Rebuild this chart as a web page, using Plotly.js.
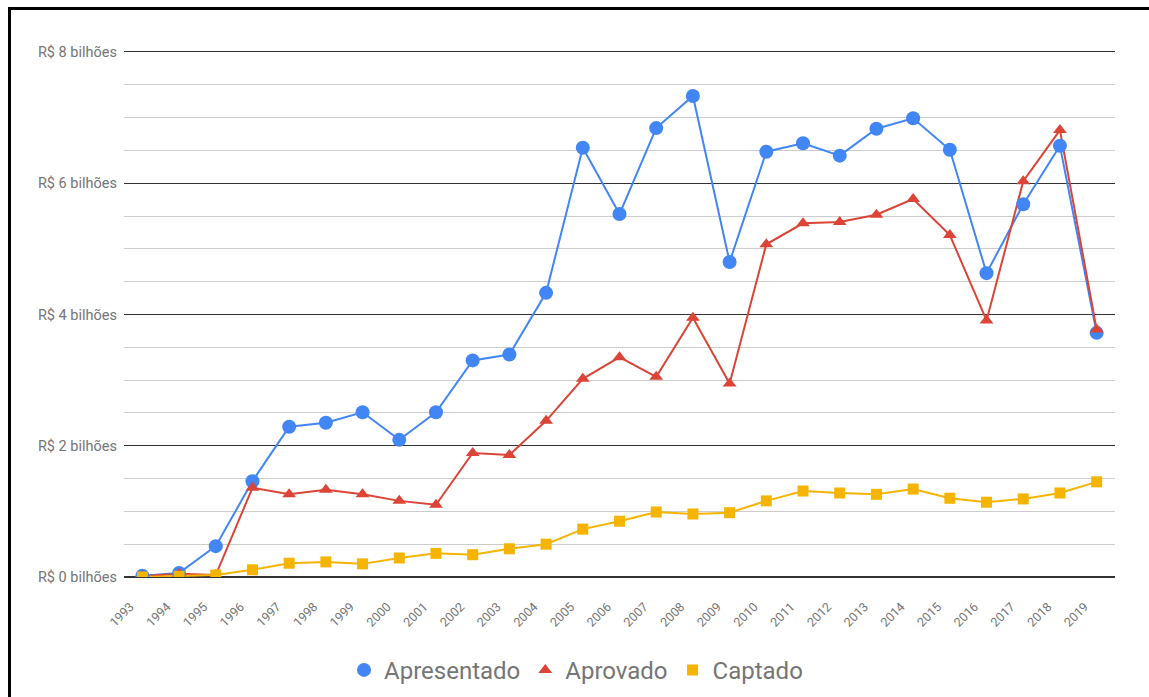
<!DOCTYPE html>
<html>
<head>
<meta charset="utf-8">
<script src="https://cdn.plot.ly/plotly-3.0.1.min.js"></script>
<style>
  html, body { margin: 0; padding: 0; background: #fff; overflow: hidden; }
  #chart { width: 1149px; height: 697px; position: absolute; left: 0; top: 0; }
  #frame { position: absolute; left: 8px; top: 7px; width: 1300px; height: 900px;
           border: 3px solid #000; box-sizing: border-box; pointer-events: none; }
</style>
</head>
<body>
<div id="chart"></div>
<div id="frame"></div>
<script>
const years = [1993,1994,1995,1996,1997,1998,1999,2000,2001,2002,2003,2004,2005,2006,2007,2008,2009,2010,2011,2012,2013,2014,2015,2016,2017,2018,2019];
const yearLabels = years.map(String);

// values in R$ billions
const apresentado = [0.02,0.06,0.47,1.46,2.29,2.35,2.51,2.09,2.51,3.30,3.39,4.33,6.54,5.53,6.84,7.33,4.80,6.48,6.61,6.42,6.83,6.99,6.51,4.63,5.68,6.57,3.72];
const aprovado    = [0.01,0.05,0.03,1.36,1.26,1.33,1.26,1.16,1.10,1.89,1.86,2.38,3.02,3.35,3.05,3.95,2.95,5.07,5.39,5.41,5.52,5.76,5.21,3.91,6.03,6.81,3.77];
const captado     = [0.00,0.01,0.03,0.11,0.21,0.23,0.20,0.29,0.36,0.34,0.43,0.50,0.73,0.85,0.99,0.96,0.98,1.16,1.31,1.28,1.26,1.34,1.20,1.14,1.19,1.28,1.45];

const yTickVals = [0,2,4,6,8];
const yTickText = ['R$ 0 bilhões','R$ 2 bilhões','R$ 4 bilhões','R$ 6 bilhões','R$ 8 bilhões'];

const seriesNames = ['Apresentado','Aprovado','Captado'];
const seriesData = [apresentado, aprovado, captado];
const colors = ['#4285F4','#DB4437','#F4B400'];
const symbols = ['circle','triangle-up','square'];
const sizes = [14, 12, 11];

const traces = [];
// lines first (under all markers)
seriesData.forEach((d, i) => {
  traces.push({
    x: years, y: d, type: 'scatter', mode: 'lines',
    line: {color: colors[i], width: 2},
    showlegend: false, hoverinfo: 'skip'
  });
});
// markers on top
seriesData.forEach((d, i) => {
  traces.push({
    x: years, y: d, type: 'scatter', mode: 'markers', name: seriesNames[i],
    marker: {color: colors[i], symbol: symbols[i], size: sizes[i]}
  });
});

const layout = {
  width: 1149, height: 697,
  margin: {l: 124, r: 34, t: 50, b: 120, autoexpand: false},
  paper_bgcolor: '#fff', plot_bgcolor: '#fff',
  font: {family: 'Roboto, sans-serif', color: '#757575'},
  showlegend: true,
  legend: {
    orientation: 'h', x: 0.222, xanchor: 'left', y: -0.177, yanchor: 'middle',
    font: {size: 24, color: '#757575', family: 'Roboto, sans-serif'},
    traceorder: 'normal'
  },
  xaxis: {
    range: [1992.5, 2019.5], automargin: false,
    tickmode: 'array', tickvals: years, ticktext: yearLabels,
    tickangle: -45, tickfont: {size: 12.5, color: '#757575'},
    ticklabelstandoff: 19, ticklabelshift: -12,
    showgrid: false, zeroline: false, showline: false, ticks: ''
  },
  yaxis: {
    range: [0, 8.03], automargin: false,
    tickmode: 'array', tickvals: yTickVals, ticktext: yTickText,
    tickfont: {size: 14.5, color: '#757575'},
    ticklabelstandoff: 6,
    showgrid: true, gridcolor: '#333', gridwidth: 1,
    zeroline: true, zerolinecolor: '#333', zerolinewidth: 1.5,
    showline: false, ticks: '',
    minor: {dtick: 0.5, tick0: 0, showgrid: true, gridcolor: '#cccccc', gridwidth: 1, ticks: ''}
  }
};

Plotly.newPlot('chart', traces, layout, {displayModeBar: false, staticPlot: true});
</script>
</body>
</html>
